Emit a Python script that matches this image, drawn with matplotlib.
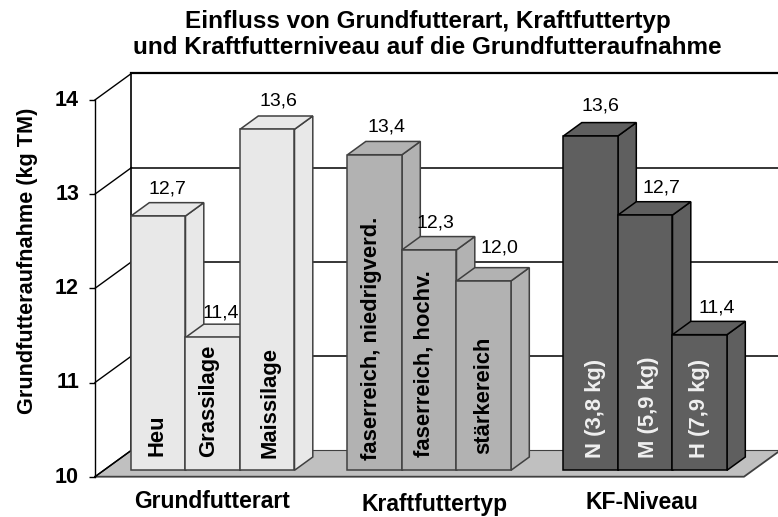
import matplotlib
matplotlib.use('Agg')
import matplotlib.pyplot as plt
from matplotlib.patches import Polygon
from matplotlib.transforms import ScaledTranslation

plt.rcParams['font.family'] = ['Liberation Sans', 'DejaVu Sans']

### Data
title = 'Einfluss von Grundfutterart, Kraftfuttertyp\nund Kraftfutterniveau auf die Grundfutteraufnahme'
y_title = 'Grundfutteraufnahme (kg TM)'
y_ticks = [10, 11, 12, 13, 14]

group_names = ['Grundfutterart', 'Kraftfuttertyp', 'KF-Niveau']
group_bars = [['Heu', 'Grassilage', 'Maissilage'],
              ['faserreich, niedrigverd.', 'faserreich, hochv.', 'stärkereich'],
              ['N (3,8 kg)', 'M (5,9 kg)', 'H (7,9 kg)']]
group_heights = [[12.70, 11.41, 13.62],
                 [13.35, 12.34, 12.01],
                 [13.55, 12.71, 11.44]]
group_labels = [['12,7', '11,4', '13,6'],
                ['13,4', '12,3', '12,0'],
                ['13,6', '12,7', '11,4']]

### Layout (pixels of the 778x517 picture)
px_unit = 94.2 #pixels per kg TM
y10_px = 476.7
def y_at(p):
	return 10+(y10_px-p)/px_unit

wall_dx, wall_dy = 36.5, 26.5/px_unit
depth_dx, depth_dy = 18.3, 13.3/px_unit
base = y_at(470.3)-10 #bars stand a bit behind the front edge of the floor
group_x = [131, 347.5, 563.5]
bar_w = 54.5
face_col = ['#e8e8e8', '#b2b2b2', '#5f5f5f']
edge_col = ['#404040', '#404040', '#000000']
text_col = ['black', 'black', '#f0f0f0']
label_dx = [[9, 8.5, 11], [12, 6, 16], [10, 16, 17.5]]
label_up = [[13.5, 11.5, 15], [14.5, 13.5, 19.5], [16.5, 13.5, 13.5]]
inner_x = [[157, 209, 270], [372, 424, 484], [596, 649, 700]]
inner_bottom = [[456, 457, 458], [460, 457, 454], [458, 458, 458]]

fig = plt.figure(figsize=(7.78, 5.17), dpi=100)
ax = fig.add_axes([0, 0, 1, 1])
ax.set_xlim(0, 778)
ax.set_ylim(y_at(517), y_at(0))
ax.patch.set_visible(False)

### Axis
for side in ['top', 'right', 'bottom']:
	ax.spines[side].set_visible(False)
ax.spines['left'].set_position(('data', 95))
ax.spines['left'].set_bounds(10, 14)
ax.spines['left'].set_linewidth(1.0)
ax.set_xticks([])
ax.set_yticks(y_ticks)
ax.tick_params(axis='y', length=4.5, width=1.0, pad=7, labelsize=15.5)
shift_up = ScaledTranslation(0, 2/100, fig.dpi_scale_trans)
for lab in ax.get_yticklabels():
	lab.set_fontweight('bold')
	lab.set_transform(lab.get_transform()+shift_up)

### Back wall and floor
x0 = 95
x_wall = x0+wall_dx
ax.add_patch(Polygon([(x0, 10), (744, 10), (778, 10+wall_dy-0.02), (778, 10+wall_dy), (x_wall, 10+wall_dy)],
	closed=True, fc='#c0c0c0', ec='none', zorder=1))
ax.plot([x0, 744, 778], [10, 10, 10+wall_dy-0.02], color='#404040', lw=1.3, zorder=1.5)
ax.plot([x0, x_wall], [10, 10+wall_dy], color='black', lw=1.0, zorder=1.5)
ax.plot([x_wall, x_wall], [10+wall_dy, 14+wall_dy], color='black', lw=1.2, zorder=1.5)
for v in y_ticks:
	ax.plot([x0, x_wall], [v, v+wall_dy], color='black', lw=1.0, zorder=1.5)
	if v > 10:
		ax.plot([x_wall, 778], [v+wall_dy, v+wall_dy], color='black', lw=1.6 if v == 14 else 1.1, zorder=1.5)
ax.plot([x_wall, 778], [10+wall_dy, 10+wall_dy], color='#404040', lw=0.8, zorder=1.5)

### Bars, left to right so that each front hides the side of the one before
z = 2
for g, start in enumerate(group_x):
	for i, h in enumerate(group_heights[g]):
		left = start+i*bar_w
		right = left+bar_w
		low = 10+base
		top = h+base
		ec = edge_col[g]
		ax.add_patch(Polygon([(right, low), (right+depth_dx, low+depth_dy), (right+depth_dx, top+depth_dy), (right, top)],
			closed=True, fc=face_col[g], ec=ec, lw=1.1, zorder=z))
		ax.add_patch(Polygon([(left, top), (left+depth_dx, top+depth_dy), (right+depth_dx, top+depth_dy), (right, top)],
			closed=True, fc=face_col[g], ec=ec, lw=1.1, zorder=z))
		ax.bar(left, h-10, width=bar_w, bottom=low, align='edge', color=face_col[g], edgecolor=ec, lw=1.1, zorder=z+0.5)
		ax.text(inner_x[g][i], y_at(inner_bottom[g][i]), group_bars[g][i], rotation=90, ha='center', va='bottom',
			fontsize=15.8, fontweight='bold', color=text_col[g], zorder=50)
		ax.text(left+bar_w/2+label_dx[g][i], top+depth_dy+label_up[g][i]/px_unit, group_labels[g][i],
			ha='center', va='center', fontsize=14, color='black', zorder=50)
		z += 1

### Titles
ax.text(427.5, y_at(34.5), title, ha='center', va='center', fontsize=17.5, fontweight='bold', linespacing=1.13)
ax.text(27.5, y_at(261), y_title, rotation=90, ha='center', va='center', fontsize=15.6, fontweight='bold')
for name, cx, cy in zip(group_names, [212, 435, 642], [502, 504, 503]):
	ax.text(cx, y_at(cy), name, ha='center', va='center', fontsize=16.5, fontweight='bold')

fig.savefig('out.png', dpi=100)
